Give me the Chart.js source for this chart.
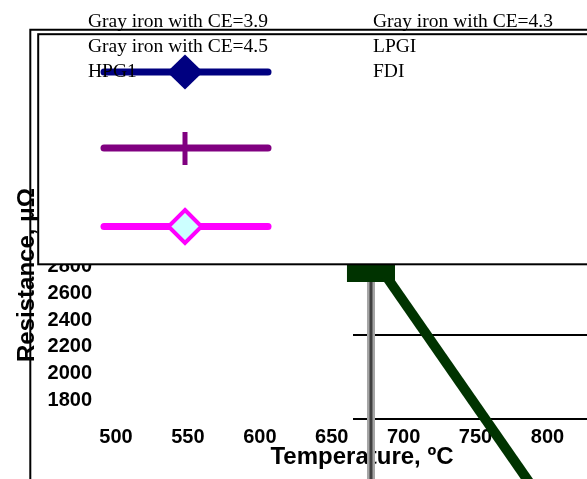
<!DOCTYPE html>
<html lang="en">
<head>
    <meta charset="UTF-8">
    <title>Resistance vs temperature</title>
    <style>
        body { margin: 0; background: #fff; }
    </style>
</head>
<body>
    <canvas id="myChart" width="587" height="479"></canvas>
</body>
<script src="https://cdn.jsdelivr.net/npm/chart.js@4.4.0/dist/chart.umd.min.js"></script>
<script>
    // legend entries, row by row
    var seriesNames = ['Gray iron with CE=3.9', 'Gray iron with CE=4.3', 'Gray iron with CE=4.5', 'LPGI', 'HPG1', 'FDI'];

    // tick labels
    var tempTicks = [500, 550, 600, 650, 700, 750, 800];
    var resTicks = [1800, 2000, 2200, 2400, 2600, 2800];

    // series (temperature, resistance)
    var fdiTemp = [687.7, 800.7];
    var fdiRes = [2729, 983];
    var blockTemp = [660.6, 694.0];
    var blockRes = [2748, 2748];
    var markerTemp = [677.3, 677.3];
    var markerRes = [2684, 1214];
    var gridTemp = [664.8, 827.5];
    var upperGridRes = [2289, 2289];
    var lowerGridRes = [1662, 1662];

    function zip(xs, ys) {
        return xs.map(function (x, i) { return { x: x, y: ys[i] }; });
    }

    var sans = 'Arial, "Liberation Sans", sans-serif';
    var serif = '"Times New Roman", "Liberation Serif", serif';

    function noPadding(scale) {
        scale.paddingTop = 0;
        scale.paddingBottom = 0;
        scale.paddingLeft = 0;
        scale.paddingRight = 0;
    }

    // frame, legend box and legend samples drawn on top
    var frame = {
        id: 'frame',
        afterDraw: function (chart) {
            var ctx = chart.ctx;
            ctx.save();
            ctx.strokeStyle = '#000';
            ctx.lineWidth = 2;
            ctx.beginPath();
            ctx.moveTo(30.3, 479);
            ctx.lineTo(30.3, 29.8);
            ctx.lineTo(587, 29.8);
            ctx.stroke();

            ctx.fillStyle = '#fff';
            ctx.fillRect(38.2, 34.2, 560, 230.1);
            ctx.strokeRect(38.2, 34.2, 560, 230.1);

            ctx.lineCap = 'round';
            ctx.lineWidth = 7;
            // navy sample + diamond
            ctx.strokeStyle = '#000080';
            ctx.beginPath(); ctx.moveTo(104, 72); ctx.lineTo(268, 72); ctx.stroke();
            ctx.fillStyle = '#000080';
            ctx.beginPath();
            ctx.moveTo(185, 54.5); ctx.lineTo(203, 72); ctx.lineTo(185, 89.5); ctx.lineTo(167, 72);
            ctx.closePath(); ctx.fill();
            // purple sample + cross
            ctx.strokeStyle = '#800080';
            ctx.beginPath(); ctx.moveTo(104, 148); ctx.lineTo(268, 148); ctx.stroke();
            ctx.lineCap = 'butt';
            ctx.lineWidth = 5;
            ctx.beginPath(); ctx.moveTo(185, 132); ctx.lineTo(185, 165); ctx.stroke();
            // magenta sample + open diamond
            ctx.lineCap = 'round';
            ctx.lineWidth = 7;
            ctx.strokeStyle = '#ff00ff';
            ctx.beginPath(); ctx.moveTo(104, 226.5); ctx.lineTo(268, 226.5); ctx.stroke();
            ctx.fillStyle = '#ccffff';
            ctx.lineWidth = 4;
            ctx.lineJoin = 'miter';
            ctx.beginPath();
            ctx.moveTo(185, 210); ctx.lineTo(201.5, 226.5); ctx.lineTo(185, 243); ctx.lineTo(168.5, 226.5);
            ctx.closePath(); ctx.fill(); ctx.stroke();

            ctx.fillStyle = '#000';
            ctx.font = '19.5px ' + serif;
            ctx.textBaseline = 'alphabetic';
            ctx.textAlign = 'left';
            seriesNames.forEach(function (name, i) {
                var col = i % 2, row = Math.floor(i / 2);
                ctx.fillText(name, col ? 373 : 88, 27 + row * 25);
            });
            ctx.restore();
        }
    };

    var ctx = document.getElementById('myChart').getContext('2d');
    var myChart = new Chart(ctx, {
        type: 'line',
        data: {
            datasets: [{
                label: 'FDI',
                data: zip(fdiTemp, fdiRes),
                borderColor: '#003300',
                borderWidth: 10,
                clip: false
            }, {
                label: 'FDI block',
                data: zip(blockTemp, blockRes),
                borderColor: '#003300',
                borderWidth: 17
            }, {
                label: 'marker core',
                data: zip(markerTemp, markerRes),
                borderColor: '#404040',
                borderWidth: 3
            }, {
                label: 'marker',
                data: zip(markerTemp, markerRes),
                borderColor: '#a6a6a6',
                borderWidth: 8
            }, {
                label: 'upper',
                data: zip(gridTemp, upperGridRes),
                borderColor: '#000',
                borderWidth: 2
            }, {
                label: 'lower',
                data: zip(gridTemp, lowerGridRes),
                borderColor: '#000',
                borderWidth: 2
            }]
        },
        options: {
            responsive: false,
            animation: false,
            layout: { autoPadding: false, padding: { top: 71, left: 0, right: 0, bottom: 0 } },
            elements: { point: { radius: 0 }, line: { tension: 0, fill: false } },
            plugins: { legend: { display: false }, tooltip: { enabled: false } },
            scales: {
                x: {
                    type: 'linear',
                    min: 514.6,
                    max: 827.5,
                    grid: { display: false, drawTicks: false },
                    border: { display: false },
                    afterBuildTicks: function (scale) {
                        scale.ticks = tempTicks.map(function (v) { return { value: v }; });
                    },
                    afterFit: function (scale) { scale.height = 0; noPadding(scale); },
                    ticks: {
                        mirror: true,
                        padding: 29.5,
                        color: '#000',
                        autoSkip: false,
                        maxRotation: 0,
                        font: { family: sans, size: 20, weight: 'bold' },
                        callback: function (v) { return String(v); }
                    },
                    title: {
                        display: true,
                        text: 'Temperature, ºC',
                        color: '#000',
                        padding: { top: 0, bottom: 7 },
                        font: { family: sans, size: 24, weight: 'bold' }
                    }
                },
                y: {
                    type: 'linear',
                    min: 1214.2,
                    max: 4258.9,
                    grid: { display: false, drawTicks: false },
                    border: { display: false },
                    afterBuildTicks: function (scale) {
                        scale.ticks = resTicks.map(function (v) { return { value: v }; });
                    },
                    afterFit: function (scale) { scale.width = 137; noPadding(scale); },
                    ticks: {
                        padding: 45,
                        color: '#000',
                        autoSkip: false,
                        font: { family: sans, size: 20, weight: 'bold' },
                        callback: function (v) { return String(v); }
                    },
                    title: {
                        display: true,
                        text: 'Resistance, μΩ',
                        color: '#000',
                        padding: { top: 13, bottom: 0 },
                        font: { family: sans, size: 24, weight: 'bold' }
                    }
                }
            }
        },
        plugins: [frame]
    });
</script>
</html>
